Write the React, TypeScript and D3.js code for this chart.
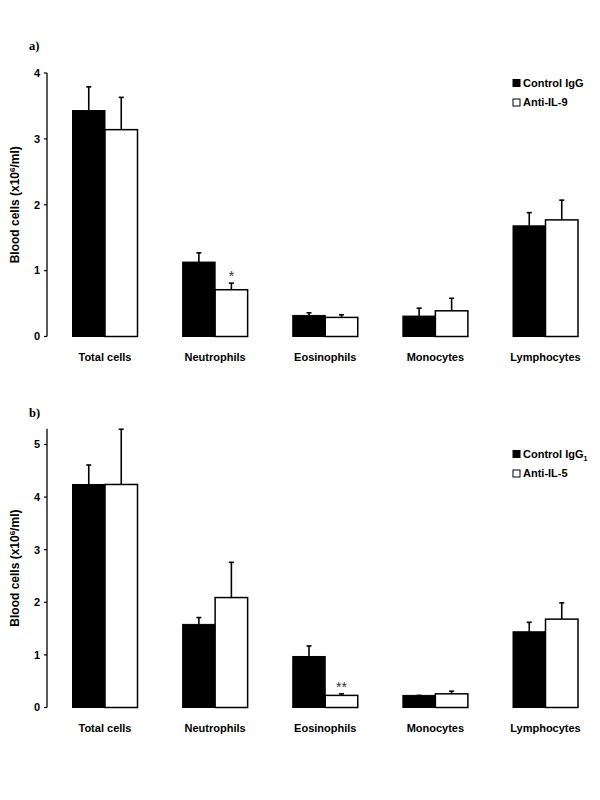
import React from "react";
import * as d3 from "d3";

const categories = ["Total cells", "Neutrophils", "Eosinophils", "Monocytes", "Lymphocytes"];

const aControl = [3.43, 1.13, 0.32, 0.31, 1.68];
const aControlErr = [0.36, 0.14, 0.04, 0.12, 0.2];
const aAnti = [3.14, 0.71, 0.29, 0.39, 1.77];
const aAntiErr = [0.49, 0.1, 0.04, 0.19, 0.3];
const aTicks = [0, 1, 2, 3, 4];
const aStars = ["", "*", "", "", ""];

const bControl = [4.24, 1.58, 0.97, 0.23, 1.44];
const bControlErr = [0.37, 0.13, 0.2, 0.0, 0.18];
const bAnti = [4.24, 2.09, 0.23, 0.26, 1.68];
const bAntiErr = [1.05, 0.67, 0.03, 0.05, 0.31];
const bTicks = [0, 1, 2, 3, 4, 5];
const bStars = ["", "", "**", "", ""];

const SANS = "'Liberation Sans', Arial, sans-serif";
const SERIF = "'Liberation Serif', 'Times New Roman', serif";

type PanelProps = {
  label: string;
  control: number[];
  controlErr: number[];
  anti: number[];
  antiErr: number[];
  ticks: number[];
  axisMax: number;
  tickMax: number;
  y0: number;
  yTickMax: number;
  stars: string[];
  legend: React.ReactNode[];
  legendY: number;
  labelY: number;
  catY: number;
};

function Panel(p: PanelProps) {
  const x = d3.scalePoint<string>().domain(categories).range([105, 545.5]);
  const y = d3.scaleLinear().domain([0, p.tickMax]).range([p.y0, p.yTickMax]);
  const bw = 32.5;
  const axisX = 47;
  const cap = 2.5;
  return (
    <g>
      <text x={29} y={p.labelY} fontFamily={SERIF} fontWeight="bold" fontSize={12.5}>
        {p.label}
      </text>
      {/* y axis */}
      <line x1={axisX} x2={axisX} y1={y(0)} y2={y(p.axisMax)} stroke="#000" strokeWidth={1.3} />
      {p.ticks.map((t) => (
        <g key={t}>
          <line x1={axisX - 3} x2={axisX} y1={y(t)} y2={y(t)} stroke="#000" strokeWidth={1.2} />
          <text
            x={axisX - 7}
            y={y(t)}
            dy="0.35em"
            textAnchor="end"
            fontFamily={SANS}
            fontWeight="bold"
            fontSize={11}
          >
            {t}
          </text>
        </g>
      ))}
      <text
        transform={`translate(19,${(y(0) + y(p.axisMax)) / 2}) rotate(-90)`}
        textAnchor="middle"
        fontFamily={SANS}
        fontWeight="bold"
        fontSize={12}
      >
        Blood cells (x10
        <tspan fontSize={8} dy={-4.5}>6</tspan>
        <tspan dy={4.5}>/ml)</tspan>
      </text>
      {categories.map((c, i) => {
        const cx = x(c) as number;
        const xb = cx - bw;
        const xw = cx;
        return (
          <g key={c}>
            {/* error bars */}
            <line x1={xb + bw / 2} x2={xb + bw / 2} y1={y(p.control[i])} y2={y(p.control[i] + p.controlErr[i])} stroke="#000" strokeWidth={1.6} />
            <line x1={xb + bw / 2 - cap} x2={xb + bw / 2 + cap} y1={y(p.control[i] + p.controlErr[i])} y2={y(p.control[i] + p.controlErr[i])} stroke="#000" strokeWidth={1.6} />
            <line x1={xw + bw / 2} x2={xw + bw / 2} y1={y(p.anti[i])} y2={y(p.anti[i] + p.antiErr[i])} stroke="#000" strokeWidth={1.6} />
            <line x1={xw + bw / 2 - cap} x2={xw + bw / 2 + cap} y1={y(p.anti[i] + p.antiErr[i])} y2={y(p.anti[i] + p.antiErr[i])} stroke="#000" strokeWidth={1.6} />
            {/* bars */}
            <rect x={xb} y={y(p.control[i])} width={bw} height={y(0) - y(p.control[i])} fill="#000" stroke="#000" strokeWidth={1} />
            <rect x={xw} y={y(p.anti[i])} width={bw} height={y(0) - y(p.anti[i])} fill="#fff" stroke="#000" strokeWidth={1.5} />
            {p.stars[i] && (
              <text
                x={xw + bw / 2}
                y={y(p.anti[i] + p.antiErr[i]) - 2}
                textAnchor="middle"
                fontFamily={SANS}
                fontSize={14}
                fill="#333"
              >
                {p.stars[i]}
              </text>
            )}
            <text x={cx} y={p.catY} dy="0.35em" textAnchor="middle" fontFamily={SANS} fontWeight="bold" fontSize={11}>
              {c}
            </text>
          </g>
        );
      })}
      {/* legend */}
      {p.legend.map((l, i) => (
        <g key={i} transform={`translate(513,${p.legendY + i * 19.5})`}>
          <rect x={0} y={-3.5} width={7} height={7} fill={i === 0 ? "#000" : "#fff"} stroke="#000" strokeWidth={1} />
          <text x={10} y={0} dy="0.35em" fontFamily={SANS} fontWeight="bold" fontSize={11}>
            {l}
          </text>
        </g>
      ))}
    </g>
  );
}

export default function App() {
  return (
    <svg width={600} height={800} style={{ position: "absolute", left: 0, top: 0, background: "#fff" }}>
      <rect width={600} height={800} fill="#fff" />
      <Panel
        label="a)"
        control={aControl}
        controlErr={aControlErr}
        anti={aAnti}
        antiErr={aAntiErr}
        ticks={aTicks}
        axisMax={4}
        tickMax={4}
        y0={336.5}
        yTickMax={73}
        stars={aStars}
        legend={["Control IgG", "Anti-IL-9"]}
        legendY={83}
        labelY={50}
        catY={357}
      />
      <Panel
        label="b)"
        control={bControl}
        controlErr={bControlErr}
        anti={bAnti}
        antiErr={bAntiErr}
        ticks={bTicks}
        axisMax={5.3}
        tickMax={5}
        y0={707.5}
        yTickMax={444.5}
        stars={bStars}
        legend={[
          <>
            Control IgG<tspan fontSize={7} dy={3}>1</tspan>
          </>,
          "Anti-IL-5",
        ]}
        legendY={454}
        labelY={417}
        catY={728}
      />
    </svg>
  );
}
